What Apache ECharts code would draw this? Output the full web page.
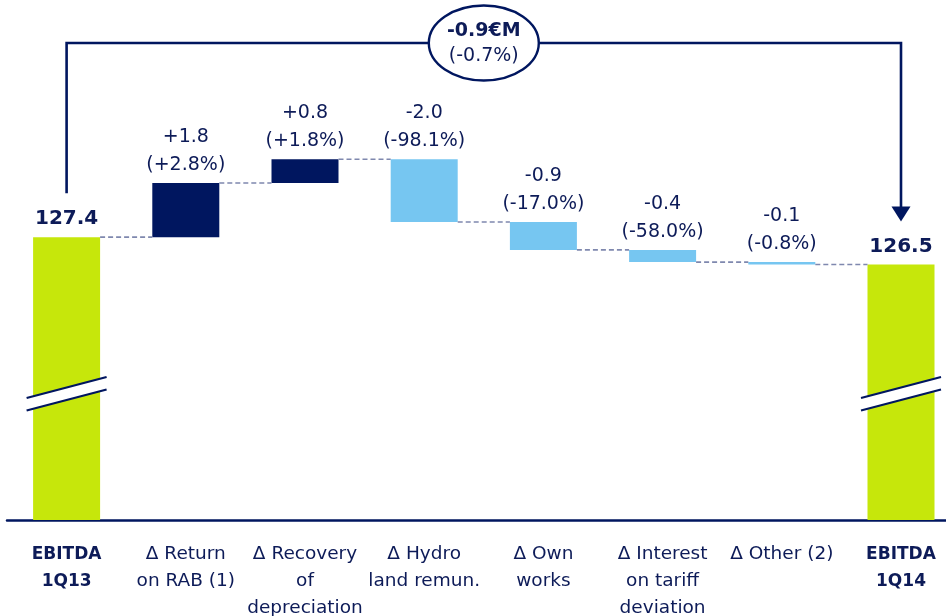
<!DOCTYPE html>
<html><head><meta charset="utf-8">
<script src="https://cdn.jsdelivr.net/npm/echarts@6/dist/echarts.min.js"></script>
<style>html,body{margin:0;padding:0;background:#fff}#c{width:946px;height:616px}</style>
</head><body><div id="c"></div>
<script>
// ---- data ----
const categories = ['EBITDA\n1Q13', 'Δ Return\non RAB (1)', 'Δ Recovery\nof\ndepreciation', 'Δ Hydro\nland remun.', 'Δ Own\nworks', 'Δ Interest\non tariff\ndeviation', 'Δ Other (2)', 'EBITDA\n1Q14'];
const startValue = 127.4;
const endValue = 126.5;
const deltas = [1.78, 0.78, -2.06, -0.92, -0.40, -0.08];
const deltaLabels = ['+1.8', '+0.8', '-2.0', '-0.9', '-0.4', '-0.1'];
const pctLabels = ['+2.8%', '+1.8%', '-98.1%', '-17.0%', '-58.0%', '-0.8%'];
const totalLabels = ['127.4', '126.5'];
const changeLabel = '-0.9€M';
const changePct = '-0.7%';
const breakValue = 122.25;
const axisMin = 118.1;
const axisMax = 135;

// ---- style ----
const NAVY = '#00165F', LIGHT = '#76C6F1', LIME = '#C6E70B', TEXT = '#0D1B58', DASH = '#7F88AE';
const FONT = 'DejaVu Sans';
const BAR_W = 67;

const n = categories.length;
const baseData = [], valData = [], levels = [];
let cur = startValue;
const totalLabelStyle = { show: true, position: 'top', distance: 4, fontSize: 20, fontWeight: 'bold', color: TEXT, fontFamily: FONT, lineHeight: 28 };
baseData.push(0);
valData.push({ value: startValue, itemStyle: { color: LIME }, label: Object.assign({}, totalLabelStyle, { formatter: totalLabels[0] }) });
levels.push(cur);
deltas.forEach((d, i) => {
  const next = cur + d;
  baseData.push(Math.min(cur, next));
  valData.push({ value: Math.abs(d), itemStyle: { color: d >= 0 ? NAVY : LIGHT },
    label: { show: true, position: 'top', distance: 4, fontSize: 19, color: TEXT, fontFamily: FONT, lineHeight: 28,
      formatter: deltaLabels[i] + '\n(' + pctLabels[i] + ')' } });
  cur = next;
  levels.push(cur);
});
baseData.push(0);
valData.push({ value: endValue, itemStyle: { color: LIME }, label: Object.assign({}, totalLabelStyle, { formatter: totalLabels[1] }) });

const connectorData = levels.slice(0, n - 1).map((l, i) => [i, l]);

const chart = echarts.init(document.getElementById('c'), null, { renderer: 'canvas' });
chart.setOption({
  animation: false,
  backgroundColor: '#fff',
  grid: { left: 7, width: 953.6, top: 6, bottom: 96, containLabel: false, outerBoundsMode: 'none' },
  xAxis: {
    type: 'category', data: categories,
    axisLine: { lineStyle: { color: NAVY, width: 2.5 } },
    axisTick: { show: false },
    axisLabel: {
      interval: 0, margin: 21, color: TEXT, fontFamily: FONT, fontSize: 18.5, lineHeight: 27,
      formatter: (v, idx) => (idx === 0 || idx === n - 1) ? v.split('\n').map(s => '{b|' + s + '}').join('\n') : v,
      rich: { b: { fontWeight: 'bold', fontSize: 17, lineHeight: 27, color: TEXT, fontFamily: FONT } }
    }
  },
  yAxis: { type: 'value', min: axisMin, max: axisMax, show: false, splitLine: { show: false } },
  series: [
    { type: 'bar', stack: 'w', data: baseData, barWidth: BAR_W, itemStyle: { color: 'rgba(0,0,0,0)' }, silent: true },
    { type: 'bar', stack: 'w', data: valData, barWidth: BAR_W },
    {
      type: 'custom', data: connectorData, z: 3, silent: true,
      renderItem: (params, api) => {
        const i = api.value(0), l = api.value(1);
        const p0 = api.coord([i, l]), p1 = api.coord([i + 1, l]);
        return { type: 'line', shape: { x1: p0[0] + BAR_W / 2, y1: p0[1], x2: p1[0] - BAR_W / 2, y2: p1[1] },
          style: { stroke: DASH, lineWidth: 1.6, lineDash: [5, 3] } };
      }
    },
    {
      type: 'custom', data: [[0, breakValue], [n - 1, breakValue]], z: 5, silent: true,
      renderItem: (params, api) => {
        const c = api.coord([api.value(0), api.value(1)]);
        const dx = 40, dy = 10.5, g = 6.25;
        const uL = [c[0] - dx, c[1] - g + dy], uR = [c[0] + dx, c[1] - g - dy];
        const lL = [c[0] - dx, c[1] + g + dy], lR = [c[0] + dx, c[1] + g - dy];
        return { type: 'group', children: [
          { type: 'polygon', shape: { points: [uL, uR, lR, lL] }, style: { fill: '#fff' } },
          { type: 'line', shape: { x1: uL[0], y1: uL[1], x2: uR[0], y2: uR[1] }, style: { stroke: NAVY, lineWidth: 2.2 } },
          { type: 'line', shape: { x1: lL[0], y1: lL[1], x2: lR[0], y2: lR[1] }, style: { stroke: NAVY, lineWidth: 2.2 } }
        ] };
      }
    },
    {
      type: 'custom', data: [[0, startValue, n - 1, endValue]], z: 6, silent: true,
      renderItem: (params, api) => {
        const a = api.coord([api.value(0), api.value(1)]);
        const b = api.coord([api.value(2), api.value(3)]);
        const top = params.coordSys.y + 37;
        const cx = (a[0] + b[0]) / 2, rx = 55, ry = 37.5;
        const tip = b[1] - 43;
        const ls = { stroke: NAVY, lineWidth: 2.6, fill: null };
        return { type: 'group', children: [
          { type: 'polyline', shape: { points: [[a[0], a[1] - 44], [a[0], top], [cx - rx, top]] }, style: ls },
          { type: 'polyline', shape: { points: [[cx + rx, top], [b[0], top], [b[0], tip - 14]] }, style: ls },
          { type: 'polygon', shape: { points: [[b[0] - 9.5, tip - 15], [b[0] + 9.5, tip - 15], [b[0], tip]] }, style: { fill: NAVY } },
          { type: 'ellipse', shape: { cx: cx, cy: top, rx: rx, ry: ry }, style: { fill: '#fff', stroke: NAVY, lineWidth: 2.4 } },
          { type: 'text', style: { text: changeLabel, x: cx, y: top - 12, align: 'center', verticalAlign: 'middle', fontSize: 19, fontWeight: 'bold', fontFamily: FONT, fill: TEXT } },
          { type: 'text', style: { text: '(' + changePct + ')', x: cx, y: top + 13, align: 'center', verticalAlign: 'middle', fontSize: 19, fontFamily: FONT, fill: TEXT } }
        ] };
      }
    }
  ]
});
</script>
</body></html>
